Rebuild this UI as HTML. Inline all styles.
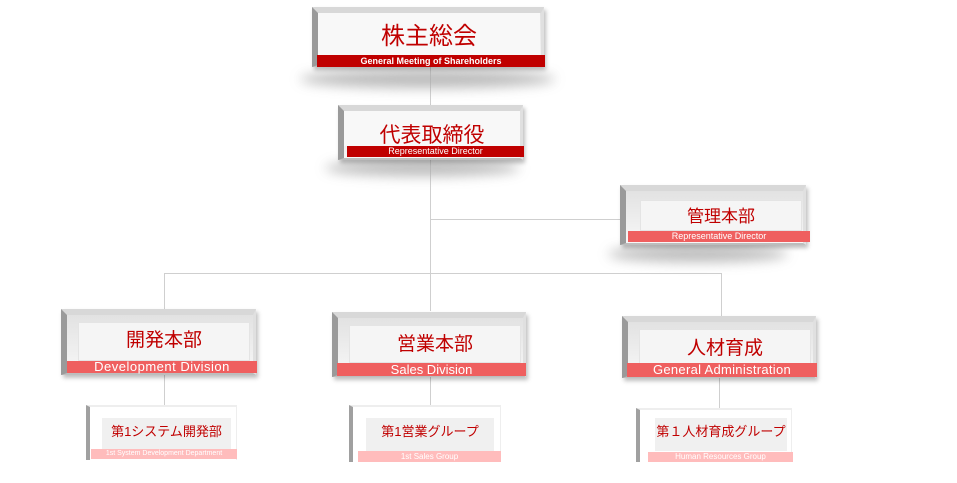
<!DOCTYPE html>
<html><head><meta charset="utf-8"><style>
body{margin:0;width:957px;height:483px;background:#fff;position:relative;overflow:hidden;font-family:"Liberation Sans","Noto Sans CJK JP",sans-serif}
.a{position:absolute}
.ln{position:absolute;background:#cfcfcf}
.sh{position:absolute;background:#aaa;border-radius:50%;filter:blur(6px);opacity:.8}
.box{position:absolute;background:linear-gradient(#e2e2e2,#f7f7f7);border-top:6px solid #d8d8d8;border-left:6px solid #9a9a9a;border-right:3px solid #e0e0e0;border-bottom:2px solid #bdbdbd;box-sizing:border-box;box-shadow:2px 3px 4px rgba(0,0,0,.25)}
.face{position:absolute;background:#f5f5f5;border:1px solid #e4e4e4;box-sizing:border-box;color:#c00000;text-align:center}
.bar{position:absolute;color:#fff;text-align:center;white-space:nowrap;box-sizing:border-box}
</style></head><body>
<div class="ln" style="left:430px;top:67px;width:1px;height:244px"></div>
<div class="ln" style="left:431px;top:219px;width:190px;height:1px"></div>
<div class="ln" style="left:164px;top:273px;width:558px;height:1px"></div>
<div class="ln" style="left:164px;top:273px;width:1px;height:37px"></div>
<div class="ln" style="left:721px;top:273px;width:1px;height:44px"></div>
<div class="ln" style="left:164px;top:374px;width:1px;height:32px"></div>
<div class="ln" style="left:430px;top:376px;width:1px;height:30px"></div>
<div class="ln" style="left:719px;top:377px;width:1px;height:32px"></div>

<div class="sh" style="left:300px;top:70px;width:255px;height:18px"></div>
<div class="sh" style="left:325px;top:160px;width:195px;height:16px"></div>
<div class="sh" style="left:608px;top:246px;width:180px;height:16px"></div>

<div class="box" style="left:312px;top:7px;width:232px;height:60px"></div>
<div class="face" style="left:318px;top:13px;width:222px;height:42px;border:none;background:#f8f8f8;font-size:24px;line-height:48px">株主総会</div>
<div class="bar" style="left:317px;top:55px;width:228px;height:12px;background:#c00000;font-size:9px;font-weight:bold;line-height:12px">General Meeting of Shareholders</div>

<div class="box" style="left:338px;top:105px;width:185px;height:55px"></div>
<div class="face" style="left:344px;top:111px;width:176px;height:35px;border:none;background:#f8f8f8;font-size:21px;line-height:50px">代表取締役</div>
<div class="bar" style="left:347px;top:146px;width:177px;height:11px;background:#c00000;font-size:9px;line-height:11px">Representative Director</div>

<div class="box" style="left:620px;top:185px;width:186px;height:60px"></div>
<div class="face" style="left:640px;top:200px;width:162px;height:31px;font-size:17px;line-height:31px">管理本部</div>
<div class="bar" style="left:628px;top:231px;width:182px;height:11px;background:#ef5f5f;font-size:9px;line-height:11px">Representative Director</div>

<div class="box" style="left:61px;top:309px;width:195px;height:66px"></div>
<div class="face" style="left:78px;top:322px;width:172px;height:39px;font-size:19px;line-height:36px">開発本部</div>
<div class="bar" style="left:67px;top:361px;width:190px;height:12px;background:#ef5f5f;font-size:13px;line-height:12px;letter-spacing:.5px">Development Division</div>

<div class="box" style="left:332px;top:312px;width:194px;height:65px"></div>
<div class="face" style="left:349px;top:325px;width:172px;height:38px;font-size:19px;line-height:38px">営業本部</div>
<div class="bar" style="left:337px;top:363px;width:189px;height:13px;background:#ef5f5f;font-size:13px;line-height:13px">Sales Division</div>

<div class="box" style="left:622px;top:316px;width:194px;height:62px"></div>
<div class="face" style="left:639px;top:329px;width:172px;height:35px;font-size:19px;line-height:38px">人材育成</div>
<div class="bar" style="left:627px;top:363px;width:190px;height:14px;background:#ef5f5f;font-size:13px;line-height:14px;letter-spacing:.3px">General Administration</div>

<div class="box" style="left:86px;top:405px;width:151px;height:55px;background:#fff;border-top:2px solid #eee;border-left:4px solid #a0a0a0;border-right:1px solid #eee;border-bottom:none;box-shadow:none"></div>
<div class="face" style="left:102px;top:418px;width:129px;height:31px;background:#f0f0f0;border:none;font-size:13px;line-height:28px">第1システム開発部</div>
<div class="bar" style="left:91px;top:449px;width:146px;height:10px;background:#ffbcbc;font-size:7px;line-height:10px">1st  System Development Department</div>

<div class="box" style="left:349px;top:405px;width:152px;height:57px;background:#fff;border-top:2px solid #eee;border-left:4px solid #a0a0a0;border-right:1px solid #eee;border-bottom:none;box-shadow:none"></div>
<div class="face" style="left:366px;top:418px;width:128px;height:33px;background:#f0f0f0;border:none;font-size:13px;line-height:28px">第1営業グループ</div>
<div class="bar" style="left:358px;top:451px;width:143px;height:11px;background:#ffbcbc;font-size:8px;line-height:11px">1st Sales Group</div>

<div class="box" style="left:636px;top:408px;width:156px;height:54px;background:#fff;border-top:2px solid #eee;border-left:4px solid #a0a0a0;border-right:1px solid #eee;border-bottom:none;box-shadow:none"></div>
<div class="face" style="left:655px;top:418px;width:132px;height:33px;background:#f0f0f0;border:none;font-size:13px;line-height:28px">第１人材育成グループ</div>
<div class="bar" style="left:648px;top:452px;width:145px;height:10px;background:#ffbcbc;font-size:8px;line-height:10px">Human Resources Group</div>
</body></html>
